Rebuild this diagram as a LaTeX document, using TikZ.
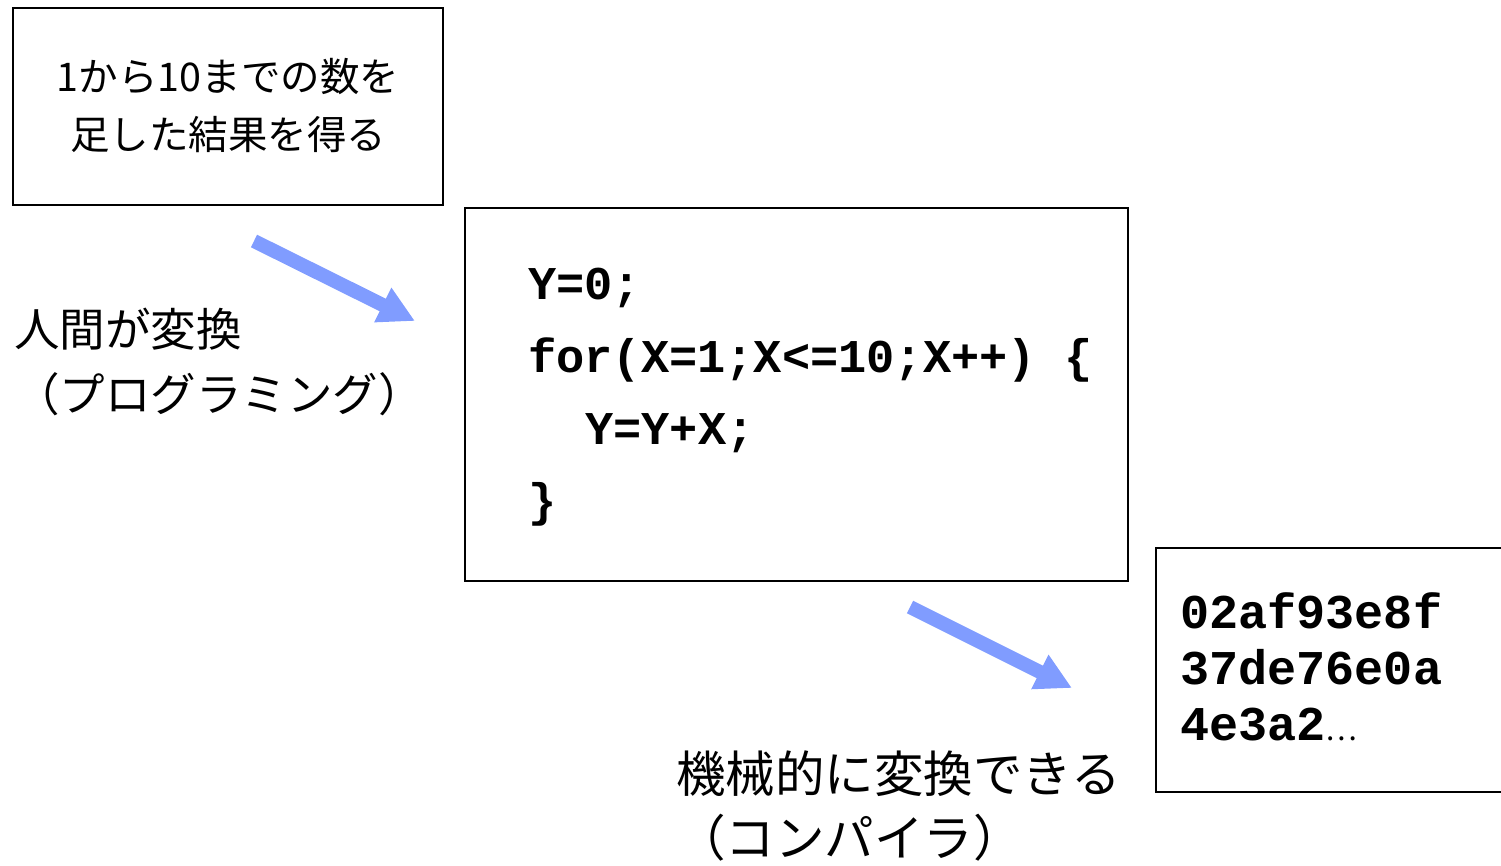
\documentclass[tikz,border=0pt]{standalone}
\usepackage{fontspec}
\setmainfont{Liberation Sans}
\newfontfamily\jpfont{Noto Sans CJK JP}
\newfontfamily\codefont{Liberation Mono}
\usetikzlibrary{arrows.meta}
\definecolor{arrowblue}{RGB}{128,156,255}
\tikzset{
  boxshape/.style={draw=black, line width=1.3pt, fill=none, inner sep=0pt},
  jptext/.style={inner sep=0pt, anchor=base west, font=\jpfont\fontsize{#1}{#1}\selectfont},
  jpbox/.style={inner sep=0pt, anchor=base, font=\jpfont\fontsize{39.5}{39.5}\selectfont},
  codetext/.style={inner sep=0pt, anchor=base west, font=\codefont\bfseries\fontsize{#1}{#1}\selectfont},
  bigarrow/.style={draw=arrowblue, line width=14pt, -{Triangle[length=36pt,width=36pt]}}
}
\begin{document}
\begin{tikzpicture}[x=1pt,y=-1pt]
\useasboundingbox (0,0) rectangle (1501,866);
\clip (0,0) rectangle (1501,866);
% box 1
\node[boxshape, minimum width=430pt, minimum height=197pt] (task) at (228,106.5) {};
\node[jpbox] (t1) at (228,92) {1から10までの数を};
\node[jpbox] (t2) at (228,150) {足した結果を得る};
% box 2
\node[boxshape, minimum width=663pt, minimum height=373pt] (prog) at (796.5,394.5) {};
\node[codetext=47] (c1) at (528,300) {Y=0;};
\node[codetext=47] (c2) at (528,372) {for(X=1;X<=10;X++) \{};
\node[codetext=47] (c3) at (585,444) {Y=Y+X;};
\node[codetext=47] (c4) at (528,516) {\}};
% box 3
\node[boxshape, minimum width=370pt, minimum height=244pt] (mach) at (1341,670) {};
\node[codetext=48.5] (h1) at (1180,628) {02af93e8f};
\node[codetext=48.5] (h2) at (1180,684) {37de76e0a};
\node[codetext=48.5] (h3) at (1180,740) {4e3a2{\jpfont\mdseries\fontsize{30}{30}\selectfont …}};
% labels
\node[jptext=45.5] (l1) at (14,347) {人間が変換};
\node[jptext=45.5] (l2) at (14,411) {（プログラミング）};
\node[jptext=49.5] (l3) at (676,792) {機械的に変換できる};
\node[jptext=49.5] (l4) at (676,856) {（コンパイラ）};
% arrows
\coordinate (a1s) at (254,241);
\coordinate (a1e) at (415,321);
\coordinate (a2s) at (910,607);
\coordinate (a2e) at (1072,688);
\draw[bigarrow] (a1s) -- (a1e);
\draw[bigarrow] (a2s) -- (a2e);
\end{tikzpicture}
\end{document}
